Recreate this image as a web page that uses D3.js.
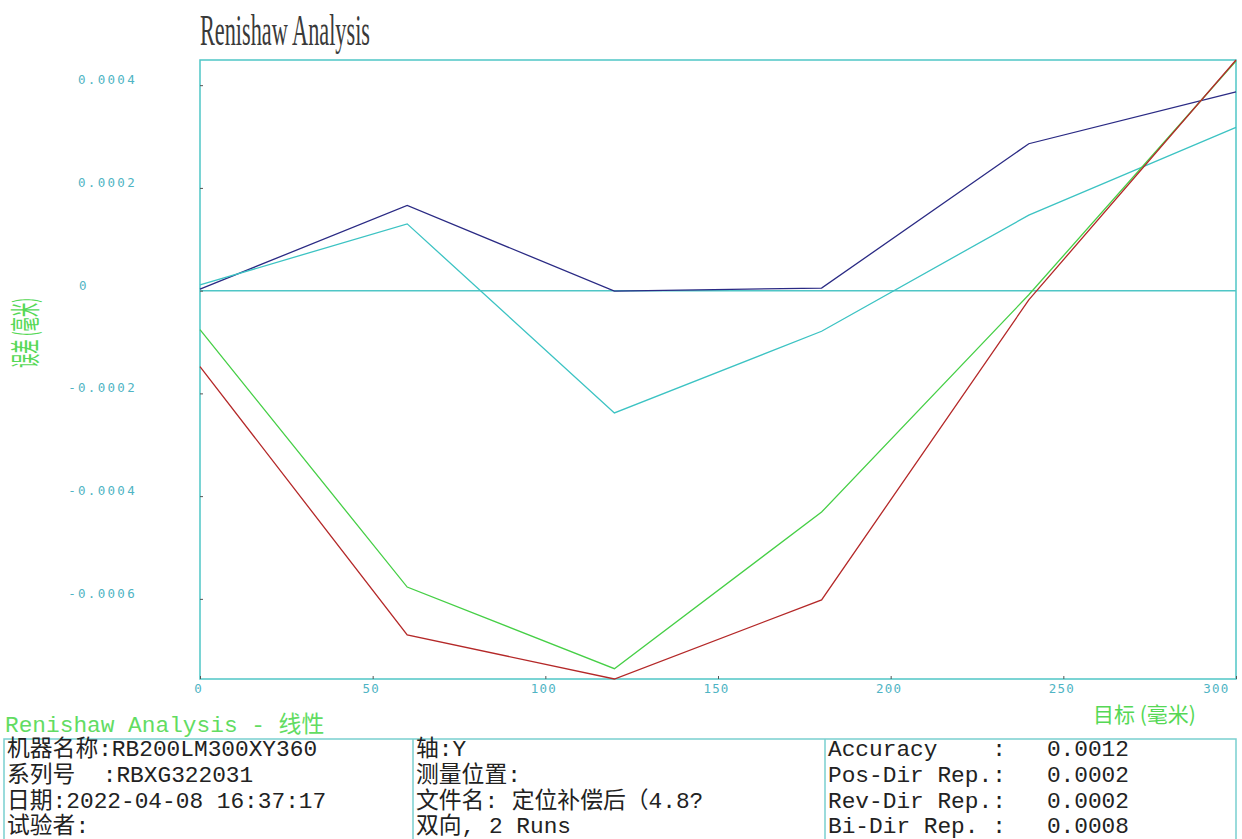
<!DOCTYPE html>
<html lang="zh">
<head>
    <meta charset="UTF-8">
    <title>Renishaw Analysis</title>
    <script src="https://d3js.org/d3.v7.min.js"></script>
    <style>
        body { margin: 0; background: #fff; }
        .mono { font-family: "Liberation Mono", "Noto Sans CJK SC", monospace; }
    </style>
</head>
<body>
    <svg id="chart"></svg>
    <script>
        const width = 1242;
        const height = 839;
        const frameColor = "#4fc6c6";
        const tickTextColor = "#4fb4c4";
        const labelGreen = "#55d855";

        // target positions (mm) and errors (mm)
        const targets = [0, 60, 120, 180, 240, 300];
        const navySeries = [0.000003, 0.000166, -0.000001, 0.000005, 0.000286, 0.000387];
        const cyanSeries = [0.000011, 0.000130, -0.000238, -0.000079, 0.000147, 0.000318];
        const greenSeries = [-0.000076, -0.000577, -0.000736, -0.000431, -0.000008, 0.000447];
        const redSeries = [-0.000148, -0.000670, -0.000756, -0.000602, -0.000018, 0.000449];
        const seriesColors = ["#2a2a84", "#3cc3c3", "#46cf46", "#b42828"];

        const xTicks = [0, 50, 100, 150, 200, 250, 300];
        const yTicks = [0.0004, 0.0002, 0, -0.0002, -0.0004, -0.0006];

        const title = "Renishaw Analysis";
        const yLabel = "误差 (毫米)";
        const xLabel = "目标 (毫米)";
        const subTitle = "Renishaw Analysis - 线性";
        const infoCol1 = ["机器名称:RB200LM300XY360", "系列号  :RBXG322031", "日期:2022-04-08 16:37:17", "试验者:"];
        const infoCol2 = ["轴:Y", "测量位置:", "文件名: 定位补偿后（4.8?", "双向, 2 Runs"];
        const infoCol3 = ["Accuracy    :   0.0012", "Pos-Dir Rep.:   0.0002", "Rev-Dir Rep.:   0.0002", "Bi-Dir Rep. :   0.0008"];

        const plot = { left: 200, right: 1236, top: 60, bottom: 679 };

        const svg = d3.select("#chart")
            .attr("width", width)
            .attr("height", height);

        const allSeries = [navySeries, cyanSeries, greenSeries, redSeries];

        const x = d3.scaleLinear()
            .domain([0, 300])
            .range([plot.left, plot.right]);

        const y = d3.scaleLinear()
            .domain(d3.extent(allSeries.flat()))
            .range([plot.bottom, plot.top]);

        // title
        svg.append("text")
            .attr("x", plot.left)
            .attr("y", 45)
            .attr("textLength", 170)
            .attr("lengthAdjust", "spacingAndGlyphs")
            .style("font-family", "Liberation Serif")
            .style("font-size", "44px")
            .attr("fill", "#3a3a3a")
            .text(title);

        // frame
        svg.append("rect")
            .attr("x", plot.left)
            .attr("y", plot.top)
            .attr("width", plot.right - plot.left)
            .attr("height", plot.bottom - plot.top)
            .attr("fill", "none")
            .attr("stroke", frameColor)
            .attr("stroke-width", 1.5);

        // zero line
        svg.append("line")
            .attr("x1", plot.left)
            .attr("x2", plot.right)
            .attr("y1", y(0))
            .attr("y2", y(0))
            .attr("stroke", frameColor)
            .attr("stroke-width", 1.5);

        // axes
        const yAxis = svg.append("g")
            .attr("transform", `translate(${plot.left},0)`)
            .call(d3.axisRight(y).tickValues(yTicks).tickSize(3).tickFormat(d => d === 0 ? "0" : d3.format(".4f")(d).replace("−", "-")));
        yAxis.select(".domain").remove();
        yAxis.selectAll(".tick line").attr("stroke", "#555");
        yAxis.selectAll(".tick text")
            .attr("x", d => d === 0 ? -121 : -63)
            .attr("dy", "-1.5")
            .attr("text-anchor", d => d === 0 ? "start" : "end")
            .attr("fill", tickTextColor)
            .style("font-family", "DejaVu Sans Mono")
            .style("font-size", "12.5px")
            .style("letter-spacing", "2.3px");

        const xAxis = svg.append("g")
            .attr("transform", `translate(0,${plot.bottom})`)
            .call(d3.axisTop(x).tickValues(xTicks).tickSize(3));
        xAxis.select(".domain").remove();
        xAxis.selectAll(".tick line").attr("stroke", "#555");
        xAxis.selectAll(".tick text")
            .attr("y", 14)
            .attr("dy", 0)
            .attr("x", d => d === 300 ? -7 : -2)
            .attr("text-anchor", d => d === 300 ? "end" : "middle")
            .attr("fill", tickTextColor)
            .style("font-family", "DejaVu Sans Mono")
            .style("font-size", "12.5px")
            .style("letter-spacing", "1.2px");

        // series lines
        const line = d3.line()
            .x((d, i) => x(targets[i]))
            .y(d => y(d));

        svg.append("g")
            .selectAll("path")
            .data(allSeries)
            .enter().append("path")
            .attr("d", d => line(d))
            .attr("fill", "none")
            .attr("stroke", (d, i) => seriesColors[i])
            .attr("stroke-width", 1.3);

        // axis labels
        svg.append("text")
            .attr("transform", "translate(36,333) rotate(-90)")
            .attr("text-anchor", "middle")
            .attr("textLength", 70)
            .attr("lengthAdjust", "spacingAndGlyphs")
            .style("font-family", "Noto Sans CJK SC")
            .style("font-size", "30px")
            .attr("fill", labelGreen)
            .text(yLabel);

        svg.append("text")
            .attr("x", 1093)
            .attr("y", 722)
            .style("font-family", "Noto Sans CJK SC")
            .style("font-size", "21px")
            .attr("fill", labelGreen)
            .text(xLabel);

        // info table
        svg.append("text")
            .attr("class", "mono")
            .attr("x", 5)
            .attr("y", 732)
            .style("font-size", "22.8px")
            .attr("fill", "#62dc62")
            .text(subTitle);

        const tableTop = 739;
        const cols = [4, 413, 825, 1236];
        const tableColor = "#79cfcf";

        svg.append("rect")
            .attr("x", cols[0])
            .attr("y", tableTop)
            .attr("width", cols[3] - cols[0])
            .attr("height", 200)
            .attr("fill", "none")
            .attr("stroke", tableColor)
            .attr("stroke-width", 1.5);

        svg.append("g")
            .selectAll("line")
            .data(cols.slice(1, 3))
            .enter().append("line")
            .attr("x1", d => d)
            .attr("x2", d => d)
            .attr("y1", tableTop)
            .attr("y2", height)
            .attr("stroke", tableColor)
            .attr("stroke-width", 1.5);

        [infoCol1, infoCol2, infoCol3].forEach((rows, c) => {
            svg.append("g")
                .selectAll("text")
                .data(rows)
                .enter().append("text")
                .attr("class", "mono")
                .attr("x", cols[c] + 3)
                .attr("y", (d, i) => 756 + i * 25.8)
                .style("font-size", "22.8px")
                .style("white-space", "pre")
                .attr("xml:space", "preserve")
                .attr("fill", "#222")
                .text(d => d);
        });
    </script>
</body>
</html>
